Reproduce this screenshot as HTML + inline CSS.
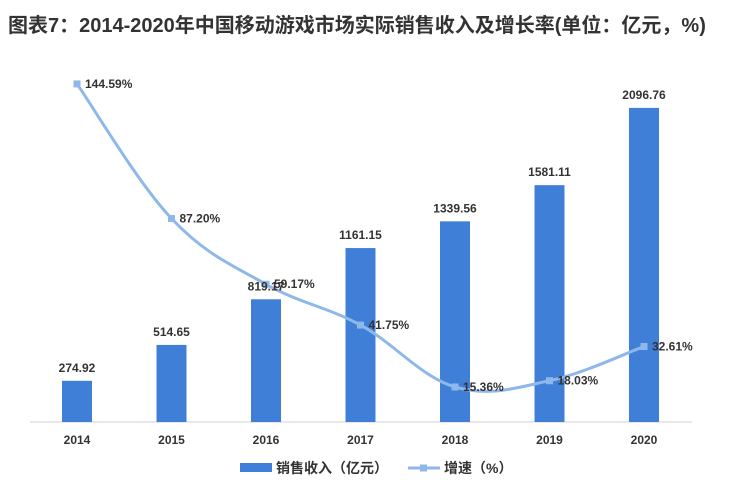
<!DOCTYPE html>
<html><head><meta charset="utf-8"><style>
body{margin:0;background:#fff;width:729px;height:488px;overflow:hidden;font-family:"Liberation Sans","Noto Sans CJK SC",sans-serif}
</style></head><body>
<svg id="c" width="729" height="488" style="position:absolute;left:0;top:0">
<text x="8" y="32" font-size="20" font-weight="bold" fill="#333" font-family="Liberation Sans, Noto Sans CJK SC, sans-serif">图表7：2014-2020年中国移动游戏市场实际销售收入及增长率(单位：亿元，%)</text>
<line x1="30" y1="422" x2="692" y2="422" stroke="#d0d0d0" stroke-width="1"/>
<g id="bars"></g><g id="line"></g><g id="labels"></g>
<g>
<rect x="240" y="463" width="32" height="9" fill="#3f7fd8"/>
<text x="276" y="473" font-size="14" font-weight="bold" fill="#333">销售收入（亿元）</text>
<line x1="408" y1="468" x2="440" y2="468" stroke="#8fb8ea" stroke-width="3"/>
<rect x="420" y="464.5" width="7" height="7" fill="#8fb8ea"/>
<text x="444" y="473" font-size="14" font-weight="bold" fill="#333">增速（%）</text>
</g>
</svg>
<script>
const years=["2014","2015","2016","2017","2018","2019","2020"];
const revenue=[274.92,514.65,819.17,1161.15,1339.56,1581.11,2096.76];
const growth=[144.59,87.20,59.17,41.75,15.36,18.03,32.61];
const NS="http://www.w3.org/2000/svg";
const xS=i=>77+i*94.5;
const yBar=v=>422-v*0.1498;
const yLine=v=>423-v*2.345;
function mk(t,a,p){const e=document.createElementNS(NS,t);for(const k in a)e.setAttribute(k,a[k]);p.appendChild(e);return e;}
const bars=document.getElementById('bars'),line=document.getElementById('line'),labels=document.getElementById('labels');
years.forEach((y,i)=>{
 const top=yBar(revenue[i]);
 const r=mk('rect',{x:xS(i)-15,y:top,width:30,height:422-top,fill:'#3f7fd8'},bars);
 
 
 const t=mk('text',{x:xS(i),y:top-9,'font-size':12,'font-weight':'bold','text-anchor':'middle',fill:'#333'},labels);
 t.textContent=revenue[i].toFixed(2);
 
 
 const xt=mk('text',{x:xS(i),y:444,'font-size':12,'font-weight':'bold','text-anchor':'middle',fill:'#333'},labels);
 xt.textContent=y;
 
 
});
const pts=growth.map((v,i)=>[xS(i),yLine(v)]);
let d='M'+pts[0][0]+','+pts[0][1];
for(let i=0;i<pts.length-1;i++){
 const p0=pts[i-1]||pts[i],p1=pts[i],p2=pts[i+1],p3=pts[i+2]||p2,k=0.18;
 d+=' C'+(p1[0]+(p2[0]-p0[0])*k)+','+(p1[1]+(p2[1]-p0[1])*k)+' '+(p2[0]-(p3[0]-p1[0])*k)+','+(p2[1]-(p3[1]-p1[1])*k)+' '+p2[0]+','+p2[1];
}
const path=mk('path',{d:d,fill:'none',stroke:'#8fb8ea','stroke-width':3},line);


pts.forEach((p,i)=>{
 const m=mk('rect',{x:p[0]-3.5,y:p[1]-3.5,width:7,height:7,fill:'#8fb8ea'},line);
 
 
 const t=mk('text',{x:p[0]+8,y:p[1]+4,'font-size':12,'font-weight':'bold',fill:'#333'},labels);
 t.textContent=growth[i].toFixed(2)+'%';
 
 
});
</script>
</body></html>
